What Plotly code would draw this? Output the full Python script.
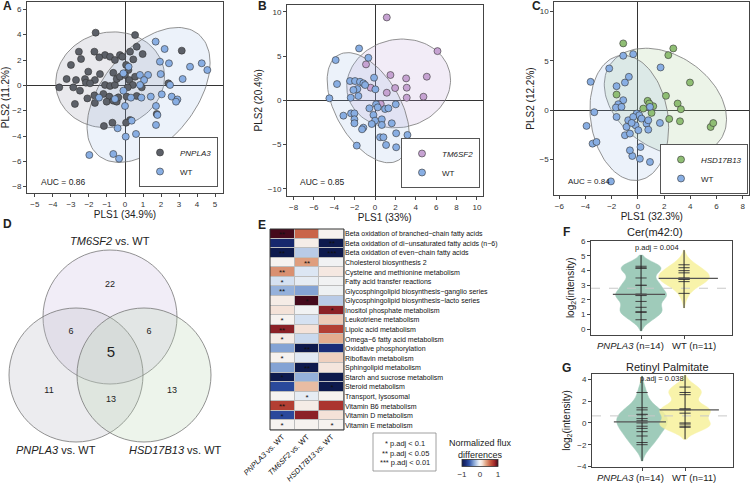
import numpy as np
import plotly.graph_objects as go

W, H = 750, 484
FONT = "Liberation Sans, Arial, sans-serif"

# ---------------- Panel A data (PLS scores) ----------------
a_pnpla3_x = [-1.63, 0.56, -2.56, -1.70, -2.44, -3.0, -1.11, -0.83, -0.56, -1.43, -0.28, -0.15, 0.28, 0.65, 0.98,
              0.46, 3.15, -2.04, -1.39, -0.65, -3.24, -2.72, -2.22, -2.17, -1.67, -3.65, -2.87, -2.5, -1.94, -1.11,
              -0.83, -0.56, -0.46, -0.28, 0.06, 0.19, 0.0, 0.24, 0.56, 0.43, 0.15, -2.09, -1.7, -1.2, -0.87, -1.02,
              -0.65, -0.46, -0.37, -1.67, -2.78, 0.65, 0.93, 0.09, 0.28, 0.06, -0.7, -1.17, 1.76, 2.41]
a_pnpla3_y = [4.16, 3.97, 2.66, 2.66, 2.08, 1.61, 2.39, 2.26, 2.0, 2.21, 2.39, 2.26, 2.66, 3.05, 2.47,
              2.05, 2.74, 1.08, 0.89, 0.99, 0.5, 0.42, 0.5, 0.21, 0.42, -0.16, -0.16, -0.42, 0.16, 0.03,
              -0.05, 0.03, 0.5, 0.68, 1.61, 1.21, 0.82, 0.42, 0.68, 0.03, -0.16, -1.03, -0.79, -0.68, -0.89, -1.29,
              -1.21, -1.29, -0.95, -1.39, -1.47, -0.84, -0.16, -0.89, -2.74, -2.95, -2.95, -3.21, -2.26, 0.16]
a_wt_x = [1.7, 2.2, 1.94, 2.44, 1.98, 1.28, 0.83, 1.06, 0.2, -0.09, 0.83, -0.09, -0.56, -1.44, 0.33, 0.91, 1.43,
          2.04, 2.5, 2.59, 2.91, 2.83, 3.2, 3.61, 4.26, 4.57, 0.0, 1.72, 1.8, 1.72, 0.37, -0.41, 0.61, 0.04, 2.35,
          -1.98, -0.65, -0.33]
a_wt_y = [3.45, 2.87, 1.87, 1.74, 0.89, 0.82, 0.82, 0.42, 1.47, 0.95, 0.03, -0.42, -1.08, -0.97, -0.97, -0.97,
          -0.89, -0.71, 0.03, -0.89, -1.11, -1.29, 0.5, 1.47, 1.74, 1.21, -1.63, -1.63, -2.34, -3.13, -2.79, -3.39,
          -3.84, -4.05, -5.16, -5.5, -5.42, -5.79]

# ---------------- Panel B data ----------------
b_tm6_x = [1.15, 6.13, 5.08, 3.05, 3.11, 3.11, 4.75, 1.51, 1.97, 1.15, -0.89, -0.43, 0.56]
b_tm6_y = [9.36, 5.56, 2.67, 2.48, 1.43, 0.3, 0.41, 2.86, 1.39, 0.86, 4.06, 1.43, -0.41]
b_wt_x = [-1.57, -3.87, -0.66, -3.74, -2.46, -1.97, -1.48, -1.15, -0.98, -0.1, 0.03, -1.74, -2.13, -1.64, -2.39,
          -4.49, -3.11, -2.36, -2.03, -2.03, -2.03, -1.15, -1.28, -1.8, -0.56, 0.1, 0.26, -0.16, 0.0, 0.66, 0.66,
          0.98, 1.31, 2.03, 1.64, 2.07, 3.18, 0.49, 0.82, 1.08, 2.07, -0.33]
b_wt_y = [5.86, 4.55, 4.81, 1.84, 2.18, 2.18, 2.1, 1.92, 1.73, 2.56, 1.24, 1.28, 1.17, 0.49, 0.3, 0.23, -1.73,
          -1.47, -1.47, -2.14, -2.59, -3.08, -3.27, -5.11, -0.9, -0.45, -0.79, -1.65, -2.29, -2.14, -2.78, -0.98,
          -0.9, -0.45, -2.59, -3.72, -3.91, -4.17, -4.17, -5.04, -5.3, -2.67]

# ---------------- Panel C data ----------------
c_hsd_x = [-1.12, 2.70, 2.32, 3.97, 2.14, 3.03, 3.28, -1.63, 0.74, 0.41, 1.17, 1.04, 2.39, 3.21, 5.55, 5.75, 0.87]
c_hsd_y = [6.78, 6.27, 5.59, 2.81, 1.46, 0.68, 0.1, 1.59, 0.95, 0.17, 0.41, -0.27, -0.88, -1.12, -1.7, -1.3, 0.68]
c_wt_x = [-0.36, -1.12, -2.19, 1.73, -3.61, -0.99, -1.63, -0.69, -1.12, -1.5, -1.68, -0.1, 0.1, 0.28, 0.66, 0.79,
          -0.18, 0.03, -0.74, -0.87, -0.99, -0.61, -3.92, -3.33, -1.63, -1.25, 0.2, 0.15, 0.92, -0.43, -0.61, -3.46,
          -3.16, 1.68, 0.79, -0.36, 0.92, -0.48, -2.06]
c_wt_y = [5.69, 5.53, 4.24, 4.34, 2.88, 2.81, 2.44, 3.39, 1.02, 0.61, 0.27, -0.34, -0.51, -0.85, -1.36, -1.97,
          -1.53, -2.03, -1.02, -1.69, -2.54, -2.37, -1.59, -0.2, -0.68, 0.34, -3.73, -4.92, -5.25, -4.64, -4.07,
          -3.39, -3.22, -1.29, -1.02, -0.68, 0.34, -1.29, -7.22]

auc_values = ["0.86", "0.85", "0.84"]

# ---------------- Panel D data (Venn counts) ----------------
venn_labels = ["22", "6", "6", "5", "11", "13", "13"]

# ---------------- Panel E data (heatmap) ----------------
pathways = [
    "Beta oxidation of branched\u2212chain fatty acids",
    "Beta oxidation of di\u2212unsaturated fatty acids (n\u22126)",
    "Beta oxidation of even\u2212chain fatty acids",
    "Cholesterol biosynthesis 2",
    "Cysteine and methionine metabolism",
    "Fatty acid transfer reactions",
    "Glycosphingolipid biosynthesis\u2212ganglio series",
    "Glycosphingolipid biosynthesis\u2212lacto series",
    "Inositol phosphate metabolism",
    "Leukotriene metabolism",
    "Lipoic acid metabolism",
    "Omega\u22126 fatty acid metabolism",
    "Oxidative phosphorylation",
    "Riboflavin metabolism",
    "Sphingolipid metabolism",
    "Starch and sucrose metabolism",
    "Steroid metabolism",
    "Transport, lysosomal",
    "Vitamin B6 metabolism",
    "Vitamin D metabolism",
    "Vitamin E metabolism",
]
comparisons = ["<i>PNPLA3</i> vs. WT", "<i>TM6SF2</i> vs. WT", "<i>HSD17B13</i> vs. WT"]
pnpla3_flux = [1.0, -0.85, -1.0, 0.02, 0.4, -0.12, -0.3, 0.06, 0.12, 0.02, 0.85, 0.06, -0.35, 0.02, -0.35,
               -1.0, -0.65, 0.01, 0.7, -0.65, 0.01]
tm6sf2_flux = [0.55, 0.05, -0.2, 0.35, -0.1, -0.06, -0.35, 1.0, -0.02, -0.12, 0.12, -0.15, -1.0, -0.08, -1.0,
               -0.3, 0.25, -0.06, 0.06, 0.85, 0.02]
hsd17b13_flux = [0.02, -1.0, -1.0, -0.02, 0.08, -0.02, -0.03, -0.2, 0.85, 0.2, 0.7, 0.3, -0.8, 0.18, 0.1,
                 -1.0, -1.0, 0.02, 0.75, 0.12, 0.02]
pnpla3_sig = ["**", "", "**", "", "**", "*", "**", "", "", "*", "**", "*", "", "*", "", "*", "", "", "**", "*", "*"]
tm6sf2_sig = ["", "", "", "**", "", "", "", "*", "", "", "", "", "**", "", "**", "", "", "*", "", "", ""]
hsd17b13_sig = ["", "**", "***", "", "", "", "", "", "*", "", "", "", "", "", "", "", "*", "", "", "", "*"]

# ---------------- Panel F / G data (violins) ----------------
f_pnpla3 = [4.3, 4.2, 4.15, 3.5, 3.0, 3.0, 2.4, 2.35, 2.3, 1.9, 1.5, 1.2, 1.15, 0.65]
f_wt = [4.4, 4.2, 4.0, 3.85, 3.5, 3.47, 3.45, 3.42, 3.4, 3.25, 2.45]
f_ref = 2.8
f_padj = "p.adj = 0.004"
g_pnpla3 = [2.8, 1.4, 1.2, 0.8, 0.75, 0.4, 0.2, 0.0, -0.3, -0.5, -0.8, -1.2, -1.8, -2.0]
g_wt = [3.3, 2.8, 2.6, 1.3, 1.25, 1.2, 0.9, 0.0, -0.1, -0.3, -0.4]
g_ref = 0.65
g_padj = "p.adj = 0.038"
group_labels = ["<i>PNPLA3</i> (n=14)", "WT (n=11)"]

# ---------------- helpers ----------------
def px(x):
    return x / W

def py(y):
    return 1 - y / H

def cov_trob(X, nu=5, maxit=25, tol=0.01):
    n, p = X.shape
    loc = X.mean(axis=0)
    w = np.ones(n)
    for _ in range(maxit):
        w0 = w
        Xc = X - loc
        _, s, vt = np.linalg.svd(np.sqrt(w / w.sum())[:, None] * Xc, full_matrices=False)
        wX = Xc @ vt.T @ np.diag(1 / s)
        Q = (wX ** 2).sum(axis=1)
        w = (nu + p) / (nu + Q)
        loc = (w[:, None] * X).sum(axis=0) / w.sum()
        if np.all(np.abs(w - w0) < tol):
            break
    Xc = X - loc
    cov = (np.sqrt(w)[:, None] * Xc).T @ (np.sqrt(w)[:, None] * Xc) / n
    return loc, cov

def ellipse(xs, ys, level=0.95, npts=120):
    X = np.column_stack([xs, ys]).astype(float)
    n = len(X)
    loc, cov = cov_trob(X)
    d2 = n - 1
    f = (d2 / 2.0) * ((1 - level) ** (-2.0 / d2) - 1)
    r = np.sqrt(2 * f)
    L = np.linalg.cholesky(cov)
    t = np.linspace(0, 2 * np.pi, npts)
    circ = np.vstack([np.cos(t), np.sin(t)])
    pts = (L @ circ) * r
    return pts[0] + loc[0], pts[1] + loc[1]

fig = go.Figure()

# scatter panels
PWT = "#88aee3"
panels = [
    ("x", "y", "legend", a_pnpla3_x, a_pnpla3_y, "<i>PNPLA3</i>", "#5c6068", "rgba(120,120,140,0.16)", a_wt_x, a_wt_y),
    ("x2", "y2", "legend2", b_tm6_x, b_tm6_y, "<i>TM6SF2</i>", "#c6a2d2", "rgba(190,160,215,0.20)", b_wt_x, b_wt_y),
    ("x3", "y3", "legend3", c_hsd_x, c_hsd_y, "<i>HSD17B13</i>", "#8fbe74", "rgba(160,200,140,0.20)", c_wt_x, c_wt_y),
]
for xa, ya, lg, gx, gy, gname, gcol, gfill, wx, wy in panels:
    ex, ey = ellipse(gx, gy)
    fig.add_trace(go.Scatter(x=ex, y=ey, mode="lines", fill="toself", fillcolor=gfill,
                             line=dict(color="#777777", width=0.8), xaxis=xa, yaxis=ya,
                             showlegend=False, hoverinfo="skip"))
    ex, ey = ellipse(wx, wy)
    fig.add_trace(go.Scatter(x=ex, y=ey, mode="lines", fill="toself", fillcolor="rgba(150,185,230,0.18)",
                             line=dict(color="#777777", width=0.8), xaxis=xa, yaxis=ya,
                             showlegend=False, hoverinfo="skip"))
    fig.add_trace(go.Scatter(x=gx, y=gy, mode="markers", name=gname, xaxis=xa, yaxis=ya, legend=lg,
                             marker=dict(size=7, color=gcol, line=dict(color="#333333", width=0.6))))
    fig.add_trace(go.Scatter(x=wx, y=wy, mode="markers", name="WT", xaxis=xa, yaxis=ya, legend=lg,
                             marker=dict(size=7, color=PWT, line=dict(color="#333333", width=0.6))))

# Venn text
venn_pos_x = [110, 71, 149, 111, 49, 111, 172]
venn_pos_y = [285, 332, 332, 353, 391, 400, 391]
venn_sizes = [9, 9, 9, 15, 9, 9, 9]
fig.add_trace(go.Scatter(x=venn_pos_x, y=venn_pos_y, mode="text", text=venn_labels,
                         textfont=dict(size=venn_sizes, color="#222222", family=FONT),
                         xaxis="x4", yaxis="y4", showlegend=False, hoverinfo="skip"))

# Heatmap
z = [list(r) for r in zip(pnpla3_flux, tm6sf2_flux, hsd17b13_flux)]
stars = [list(r) for r in zip(pnpla3_sig, tm6sf2_sig, hsd17b13_sig)]
cscale = [[0.0, "#0e1a4d"], [0.1, "#1a2d78"], [0.2, "#2f52a6"], [0.33, "#87a6d6"], [0.45, "#dce6f3"],
          [0.5, "#f6f5f3"], [0.56, "#f4e2d8"], [0.66, "#e2a786"], [0.8, "#c4553c"], [0.9, "#a2292a"],
          [1.0, "#450a1c"]]
fig.add_trace(go.Heatmap(z=z, x=comparisons, y=pathways, text=stars, texttemplate="%{text}",
                         textfont=dict(size=8, color="#111111"), colorscale=cscale, zmin=-1, zmax=1,
                         xgap=1, ygap=1, xaxis="x5", yaxis="y5", hoverinfo="skip",
                         colorbar=dict(orientation="h", x=px(480), xanchor="center", y=py(457), yanchor="middle",
                                       lenmode="pixels", len=36, thicknessmode="pixels", thickness=7,
                                       tickvals=[-1, 0, 1], ticks="", tickangle=0,
                                       tickfont=dict(size=8, color="#333"),
                                       outlinewidth=0.8, outlinecolor="#333", xpad=0, ypad=0,
                                       title=dict(text="Normalized flux<br>differences", side="top",
                                                  font=dict(size=9, color="#222")))))

# Violins
def add_violin(vals, pos, color, bw, xa, ya, left, right):
    fig.add_trace(go.Violin(y=vals, x0=pos, width=0.36, bandwidth=bw, spanmode="soft", fillcolor=color,
                            line=dict(color=color, width=0.5), opacity=0.85, points="all", jitter=0, pointpos=0,
                            marker=dict(symbol="line-ew", size=8, color="#222222", line=dict(color="#222222", width=1)),
                            xaxis=xa, yaxis=ya, showlegend=False, hoverinfo="skip"))
    lo = min(vals) - 2 * bw
    hi = max(vals) + 2 * bw
    fig.add_trace(go.Scatter(x=[pos, pos], y=[lo, hi], mode="lines", line=dict(color="#222222", width=1),
                             xaxis=xa, yaxis=ya, showlegend=False, hoverinfo="skip"))
    med = float(np.median(vals))
    fig.add_trace(go.Scatter(x=[pos - left, pos + right], y=[med, med], mode="lines",
                             line=dict(color="#555555", width=1.2),
                             xaxis=xa, yaxis=ya, showlegend=False, hoverinfo="skip"))

TEAL = "#8fc2af"
YEL = "#f7f19c"
P1, P2 = 0.355, 0.66
for xa, ya, d1, d2, bw1, bw2, ref in [("x6", "y6", f_pnpla3, f_wt, 0.38, 0.5, f_ref),
                                      ("x7", "y7", g_pnpla3, g_wt, 0.75, 0.55, g_ref)]:
    fig.add_trace(go.Scatter(x=[0, 1], y=[ref, ref], mode="lines", line=dict(color="#c8c8c8", width=1, dash="dash"),
                             xaxis=xa, yaxis=ya, showlegend=False, hoverinfo="skip"))
    add_violin(d1, P1, TEAL, bw1, xa, ya, 0.2, 0.17)
    add_violin(d2, P2, YEL, bw2, xa, ya, 0.18, 0.24)

# ---------------- layout ----------------
def sc_axis(dom, rng, dtick, title, anchor, standoff=3):
    return dict(domain=dom, range=rng, anchor=anchor, automargin=False, showgrid=False, zeroline=True,
                zerolinecolor="#333333", zerolinewidth=1.3, showline=True, mirror=True, linecolor="#444444",
                linewidth=1, ticks="outside", ticklen=3, tickcolor="#444444", dtick=dtick,
                tickfont=dict(size=8, color="#333333"),
                title=dict(text=title, font=dict(size=10, color="#222222"), standoff=standoff))

layout = dict(
    width=W, height=H, margin=dict(l=0, r=0, t=0, b=0, autoexpand=False), paper_bgcolor="white",
    plot_bgcolor="white", font=dict(family=FONT, color="#222222"), showlegend=True,
    xaxis=sc_axis([px(27), px(223)], [-5.44, 5.44], 1, "PLS1 (34.9%)", "y"),
    yaxis=sc_axis([py(193), py(2)], [-8.5, 6.58], 2, "PLS2 (11.2%)", "x"),
    xaxis2=sc_axis([px(287), px(482.5)], [-8.65, 10.55], 2, "PLS1 (33%)", "y2"),
    yaxis2=sc_axis([py(196), py(4.7)], [-10.8, 10.8], 5, "PLS2 (20.4%)", "x2"),
    xaxis3=sc_axis([px(554.3), px(749.3)], [-6.38, 8.5], 2, "PLS1 (32.3%)", "y3"),
    yaxis3=sc_axis([py(195), py(2)], [-8.6, 10.98], 5, "PLS2 (12.2%)", "x3"),
    xaxis4=dict(domain=[0, px(250)], range=[0, 250], anchor="y4", visible=False, fixedrange=True, automargin=False),
    yaxis4=dict(domain=[0, py(230)], range=[484, 230], anchor="x4", visible=False, fixedrange=True, automargin=False),
    xaxis5=dict(domain=[px(270), px(344)], anchor="y5", showgrid=False, zeroline=False, showline=False,
                automargin=False, ticks="", tickangle=-45, tickfont=dict(size=7.5, color="#111111")),
    yaxis5=dict(domain=[py(430), py(229)], anchor="x5", side="right", autorange="reversed", showgrid=False,
                automargin=False, zeroline=False, showline=False, ticks="", tickfont=dict(size=7, color="#111111")),
    xaxis6=dict(domain=[px(591), px(732)], range=[0, 1], anchor="y6", showgrid=False, zeroline=False,
                automargin=False, showline=True, mirror=True, linecolor="#444444", ticks="outside", ticklen=3,
                tickvals=[P1, P2], showticklabels=False),
    yaxis6=dict(domain=[py(335), py(240.6)], range=[-0.39, 6.05], anchor="x6", dtick=1, showgrid=False,
                automargin=False, zeroline=False, showline=True, mirror=True, linecolor="#444444",
                ticks="outside", ticklen=3, tickfont=dict(size=8, color="#333333"),
                title=dict(text="log<sub>2</sub>(intensity)", font=dict(size=10, color="#222222"), standoff=4)),
    xaxis7=dict(domain=[px(592), px(733)], range=[0, 1], anchor="y7", showgrid=False, zeroline=False,
                automargin=False, showline=True, mirror=True, linecolor="#444444", ticks="outside", ticklen=3,
                tickvals=[P1, P2], showticklabels=False),
    yaxis7=dict(domain=[py(467), py(374)], range=[-4.05, 4.5], anchor="x7", dtick=2, showgrid=False,
                automargin=False, zeroline=False, showline=True, mirror=True, linecolor="#444444",
                ticks="outside", ticklen=3, tickfont=dict(size=8, color="#333333"),
                title=dict(text="log<sub>2</sub>(intensity)", font=dict(size=10, color="#222222"), standoff=4)),
)
leg_common = dict(bgcolor="white", bordercolor="#555555", borderwidth=1, font=dict(size=8, color="#222222"),
                  itemsizing="trace", tracegroupgap=0, itemwidth=30, xanchor="right", yanchor="bottom")
layout["legend"] = dict(x=px(218), y=py(187), **leg_common)
layout["legend2"] = dict(x=px(480), y=py(188), **leg_common)
layout["legend3"] = dict(x=px(748), y=py(194), **leg_common)

shapes = []
# Venn circles
for cx, cy, fill in [(110, 317, "rgba(200,185,225,0.25)"), (76, 375, "rgba(185,185,198,0.28)"),
                     (144, 375, "rgba(185,210,175,0.25)")]:
    shapes.append(dict(type="circle", xref="x4", yref="y4", x0=cx - 67, x1=cx + 67, y0=cy - 67, y1=cy + 67,
                       fillcolor=fill, line=dict(color="#777777", width=0.8), layer="below"))
# heatmap grid background and border
shapes.append(dict(type="rect", xref="x5 domain", yref="y5 domain", x0=0, x1=1, y0=0, y1=1,
                   fillcolor="#bdbdbd", line=dict(width=0), layer="below"))
shapes.append(dict(type="rect", xref="x5 domain", yref="y5 domain", x0=0, x1=1, y0=0, y1=1,
                   fillcolor="rgba(0,0,0,0)", line=dict(color="#333333", width=1), layer="above"))
# significance legend box
shapes.append(dict(type="rect", xref="paper", yref="paper", x0=px(373), x1=px(436), y0=py(471), y1=py(433),
                   line=dict(color="#888888", width=0.8)))
layout["shapes"] = shapes

ann = []
def A(x, y, text, size=9, bold=False, xanchor="center", color="#222222"):
    ann.append(dict(x=px(x), y=py(y), xref="paper", yref="paper", text=("<b>%s</b>" % text) if bold else text,
                    showarrow=False, xanchor=xanchor, yanchor="middle", font=dict(size=size, color=color)))

for lab, x, y in [("A", 7, 6), ("B", 262, 6), ("C", 536, 6), ("D", 7, 224), ("E", 262, 225), ("F", 566, 232),
                  ("G", 566, 368)]:
    A(x, y, lab, size=12, bold=True)
A(39, 182, "AUC = " + auc_values[0], size=8.5, xanchor="left")
A(298, 182, "AUC = " + auc_values[1], size=8.5, xanchor="left")
A(566, 181, "AUC = " + auc_values[2], size=8, xanchor="left")
A(110, 241, "<i>TM6SF2</i> vs. WT", size=11)
A(56, 450, "<i>PNPLA3</i> vs. WT", size=11)
A(175, 450, "<i>HSD17B13</i> vs. WT", size=11)
A(405, 443, "* p.adj < 0.1", size=7.5)
A(405, 453, "** p.adj < 0.05", size=7.5)
A(405, 462, "*** p.adj < 0.01", size=7.5)
A(655, 232, "Cer(m42:0)", size=11)
A(667, 367, "Retinyl Palmitate", size=11)
A(657, 247, f_padj, size=7.5)
A(662, 378, g_padj, size=7.5)
A(630, 345, group_labels[0], size=9.5)
A(694, 345, group_labels[1], size=9.5)
A(630, 477, group_labels[0], size=9.5)
A(694, 477, group_labels[1], size=9.5)
layout["annotations"] = ann

fig.update_layout(**layout)
fig.write_html("out.html", config={"displayModeBar": False},
               post_script="document.body.style.margin='0px';document.body.style.overflow='hidden';")
